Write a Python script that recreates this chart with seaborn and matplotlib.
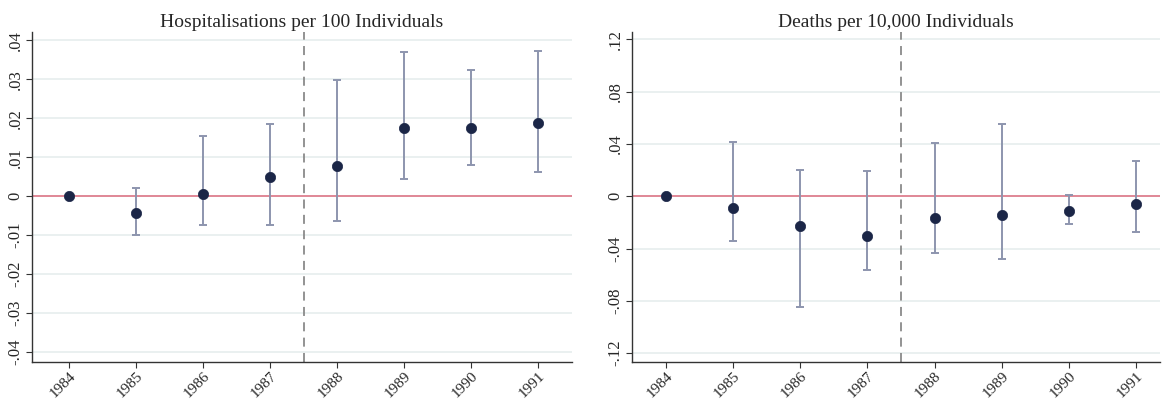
import matplotlib
matplotlib.use("Agg")
import matplotlib.pyplot as plt
import seaborn as sns
import numpy as np
import pandas as pd

years = [1984, 1985, 1986, 1987, 1988, 1989, 1990, 1991]

hosp_est = [0.0, -0.0044, 0.0006, 0.0049, 0.0077, 0.0174, 0.0175, 0.0189]
hosp_lo = [0.0, -0.0099, -0.0074, -0.0075, -0.0063, 0.0044, 0.0081, 0.0062]
hosp_hi = [0.0, 0.0021, 0.0154, 0.0185, 0.0297, 0.0369, 0.0323, 0.0373]

death_est = [0.0, -0.0090, -0.0225, -0.0306, -0.0168, -0.0145, -0.0110, -0.0056]
death_lo = [0.0, -0.0342, -0.0844, -0.0566, -0.0436, -0.0477, -0.0209, -0.0275]
death_hi = [0.0, 0.0418, 0.0201, 0.0191, 0.0405, 0.0553, 0.0010, 0.0268]

hosp_ticks = [-0.04, -0.03, -0.02, -0.01, 0.0, 0.01, 0.02, 0.03, 0.04]
hosp_ticklabels = ["-.04", "-.03", "-.02", "-.01", "0", ".01", ".02", ".03", ".04"]
death_ticks = [-0.12, -0.08, -0.04, 0.0, 0.04, 0.08, 0.12]
death_ticklabels = ["-.12", "-.08", "-.04", "0", ".04", ".08", ".12"]

titles = ["Hospitalisations per 100 Individuals", "Deaths per 10,000 Individuals"]

sns.set_theme(style="white")
plt.rcParams['font.family'] = ['Liberation Serif', 'DejaVu Serif']

fig = plt.figure(figsize=(11.66, 4.01), dpi=100)
ax1 = fig.add_axes([0.0274, 0.0973, 0.4632, 0.8227])
ax2 = fig.add_axes([0.5420, 0.0973, 0.4529, 0.8227])

panels = [
    (ax1, hosp_est, hosp_lo, hosp_hi, hosp_ticks, hosp_ticklabels, (-0.0425, 0.0421), (1983.45, 1991.5)),
    (ax2, death_est, death_lo, death_hi, death_ticks, death_ticklabels, (-0.1267, 0.1256), (1983.49, 1991.36)),
]

for i, (ax, est, lo, hi, ticks, tlabels, ylim, xlim) in enumerate(panels):
    df = pd.DataFrame({"year": years, "est": est, "lo": lo, "hi": hi})
    for t in ticks:
        ax.axhline(t, color="#e6eded", lw=1.2, zorder=0)
    ax.axhline(0, color="#e0808f", lw=1.3, zorder=1)
    ax.axvline(1987.5, color="#8a8a8a", lw=1.3, ls=(0, (5, 3.5)), zorder=1)
    sub = df[df.year > 1984]
    ax.errorbar(sub.year, sub.est,
                yerr=[sub.est - sub.lo, sub.hi - sub.est],
                fmt="none", ecolor="#8d95ae", elinewidth=1.4, capsize=3.2,
                capthick=1.4, zorder=2)
    sns.scatterplot(data=df, x="year", y="est", ax=ax, color="#1b2647",
                    s=55, edgecolor="#1b2647", linewidth=0.5, zorder=3)
    ax.set_xlim(*xlim)
    ax.set_ylim(*ylim)
    ax.set_xticks(years)
    ax.set_xticklabels([str(y) for y in years], rotation=45, fontsize=11,
                       ha="right", va="top", rotation_mode="anchor")
    ax.set_yticks(ticks)
    ax.set_yticklabels(tlabels, rotation=90, fontsize=12, va="center")
    ax.set_xlabel("")
    ax.set_ylabel("")
    ax.set_title(titles[i], fontsize=14, pad=4)
    for s in ["top", "right"]:
        ax.spines[s].set_visible(False)
    for s in ["left", "bottom"]:
        ax.spines[s].set_color("#333333")
        ax.spines[s].set_linewidth(1.0)
    ax.tick_params(axis="both", which="both", direction="out", length=4,
                   width=0.8, color="#333333", bottom=True, left=True, pad=2)
    ax.tick_params(axis="x", pad=1)

fig.savefig("out.png", dpi=100)
